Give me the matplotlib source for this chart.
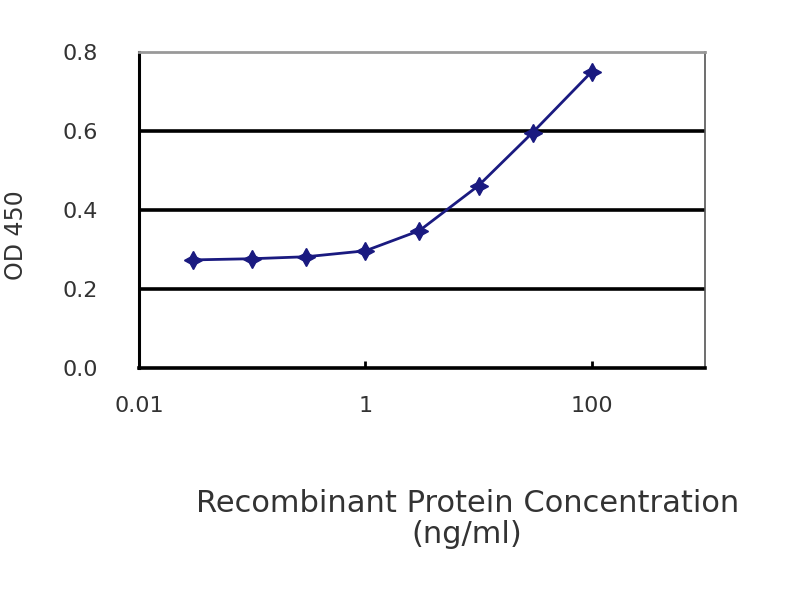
import matplotlib.pyplot as plt
from matplotlib.ticker import FixedLocator, NullLocator

# ELISA standard curve
conc = [0.03, 0.1, 0.3, 1, 3, 10, 30, 100]
od450 = [0.273, 0.276, 0.281, 0.296, 0.347, 0.461, 0.595, 0.749]

x_ticks = [0.01, 1, 100]
x_tick_labels = ["0.01", "1", "100"]
y_ticks = [0.0, 0.2, 0.4, 0.6, 0.8]
y_tick_labels = ["0.0", "0.2", "0.4", "0.6", "0.8"]

text_color = "#333333"
line_color = "#1a1a80"

fig = plt.figure(figsize=(8, 6), dpi=100)
ax = fig.add_axes([0.174, 0.387, 0.707, 0.527])

for y in y_ticks[1:-1]:
    ax.axhline(y, color="black", linewidth=2.6, zorder=1)

ax.plot(conc, od450, color=line_color, linewidth=2,
        marker=(4, 1, 0), markersize=13, zorder=3)

ax.set_xscale("log")
ax.set_xlim(0.01, 1000)
ax.set_ylim(0, 0.8)
ax.xaxis.set_major_locator(FixedLocator(x_ticks))
ax.xaxis.set_minor_locator(NullLocator())
ax.set_xticklabels(x_tick_labels)
ax.set_yticks(y_ticks)
ax.set_yticklabels(y_tick_labels)

ax.tick_params(axis="x", direction="in", length=5, width=2, pad=20,
               labelsize=16, labelcolor=text_color)
ax.tick_params(axis="y", length=0, pad=30, labelsize=16,
               labelcolor=text_color)

ax.spines["left"].set_linewidth(2.2)
ax.spines["bottom"].set_linewidth(2.6)
ax.spines["top"].set_color("#999999")
ax.spines["top"].set_linewidth(2)
ax.spines["right"].set_color("#555555")
ax.spines["right"].set_linewidth(1.2)

ax.set_ylabel("OD 450", fontsize=17, color=text_color)
ax.yaxis.set_label_coords(-0.196, 0.42)
fig.text(0.584, 0.135, "Recombinant Protein Concentration\n(ng/ml)",
         ha="center", va="center", fontsize=22, color=text_color,
         linespacing=1.1)

fig.savefig("out.png", dpi=100)
